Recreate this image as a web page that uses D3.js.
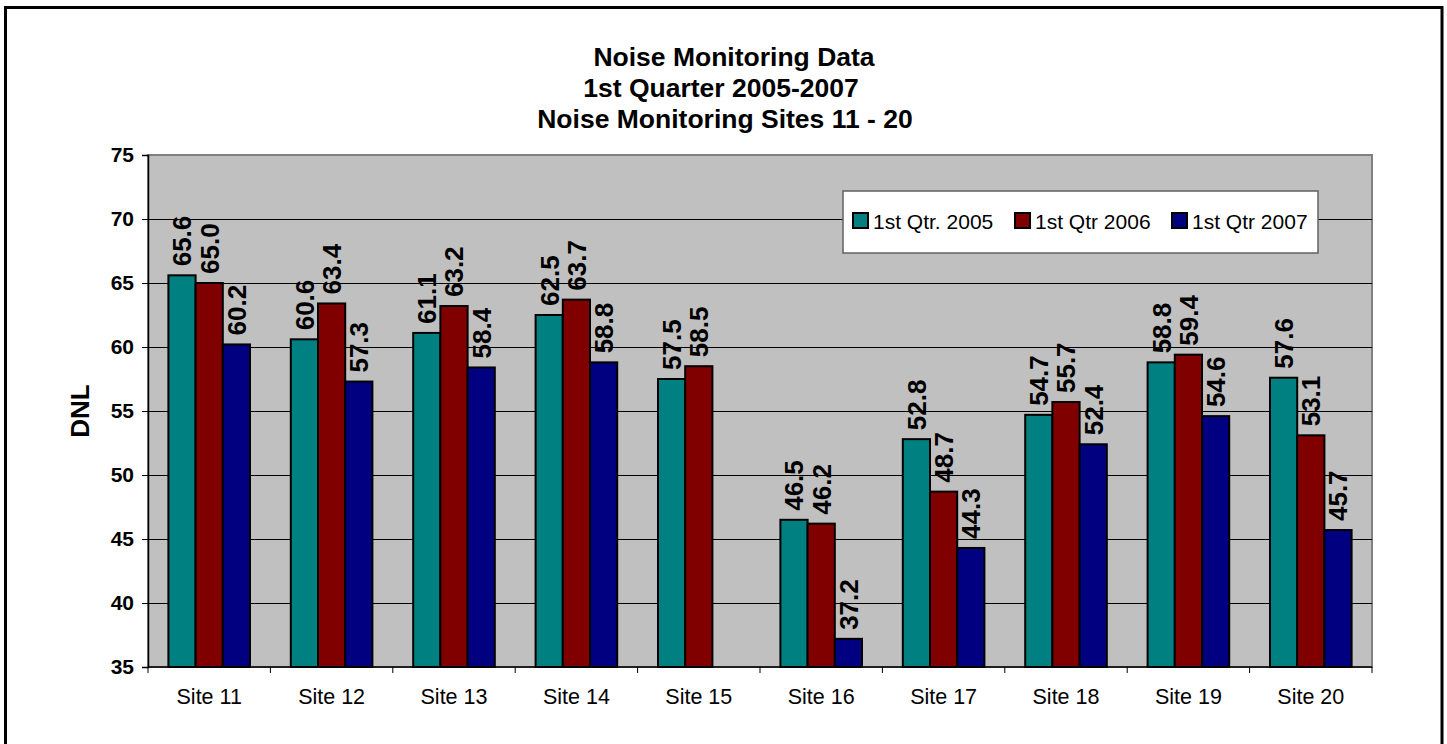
<!DOCTYPE html>
<meta charset="utf-8">
<script src="https://d3js.org/d3.v7.min.js"></script>
<style>
  body { margin: 0; background: #fff; }
  text { font-family: Arial, "Liberation Sans", sans-serif; }
</style>
<div id="my_dataviz"></div>
<script>

// chart values
var sites = ["Site 11", "Site 12", "Site 13", "Site 14", "Site 15",
             "Site 16", "Site 17", "Site 18", "Site 19", "Site 20"];
var seriesNames = ["1st Qtr. 2005", "1st Qtr 2006", "1st Qtr 2007"];
var q2005 = [65.6, 60.6, 61.1, 62.5, 57.5, 46.5, 52.8, 54.7, 58.8, 57.6];
var q2006 = [65.0, 63.4, 63.2, 63.7, 58.5, 46.2, 48.7, 55.7, 59.4, 53.1];
var q2007 = [60.2, 57.3, 58.4, 58.8, null, 37.2, 44.3, 52.4, 54.6, 45.7];
var yTicks = [35, 40, 45, 50, 55, 60, 65, 70, 75];
var titleLines = ["Noise Monitoring Data", "1st Quarter 2005-2007", "Noise Monitoring Sites 11 - 20"];

var colors = ["#008080", "#800000", "#000080"];
var allSeries = [q2005, q2006, q2007];

var W = 1447, H = 744;
var plot = {left: 148, right: 1372, top: 155, bottom: 667};

var svg = d3.select("#my_dataviz")
  .append("svg")
    .attr("width", W)
    .attr("height", H);

// outer frame
svg.append("rect")
  .attr("x", 5.5).attr("y", 7.5)
  .attr("width", 1436.5).attr("height", 760)
  .attr("fill", "#fff")
  .attr("stroke", "#000")
  .attr("stroke-width", 3);

// title
var titleDx = [9, -4, 0];
svg.selectAll(".title")
  .data(titleLines)
  .enter()
  .append("text")
    .attr("x", function(d, i) { return 725 + titleDx[i]; })
    .attr("y", function(d, i) { return 66 + i * 31; })
    .attr("text-anchor", "middle")
    .style("font-size", "26.5px")
    .style("font-weight", "bold")
    .text(function(d) { return d; });

// scales
var x0 = d3.scaleBand()
  .domain(sites)
  .range([plot.left, plot.right])
  .padding(0);

var x1 = d3.scaleBand()
  .domain(d3.range(seriesNames.length))
  .range([0, x0.bandwidth()])
  .paddingInner(0)
  .paddingOuter(0.75);

var y = d3.scaleLinear()
  .domain([35, 75])
  .range([plot.bottom, plot.top]);

// plot background
svg.append("rect")
  .attr("x", plot.left).attr("y", plot.top)
  .attr("width", plot.right - plot.left)
  .attr("height", plot.bottom - plot.top)
  .attr("fill", "#c0c0c0")
  .attr("stroke", "#808080")
  .attr("stroke-width", 2);

// gridlines
svg.selectAll(".grid")
  .data(yTicks.filter(function(t) { return t > 35 && t < 75; }))
  .enter()
  .append("line")
    .attr("x1", plot.left).attr("x2", plot.right)
    .attr("y1", function(d) { return y(d) + 0.5; })
    .attr("y2", function(d) { return y(d) + 0.5; })
    .attr("stroke", "#000")
    .attr("stroke-width", 1);

// Y axis
var yAxis = svg.append("g")
  .attr("transform", "translate(" + plot.left + ",0)")
  .call(d3.axisLeft(y).tickValues(yTicks).tickSize(6).tickPadding(8));
yAxis.select(".domain").attr("stroke", "#000").attr("stroke-width", 1.5);
yAxis.selectAll(".tick line").attr("stroke", "#000");
yAxis.selectAll("text")
  .style("font-size", "21px")
  .style("font-weight", "bold")
  .style("font-family", "Arial, 'Liberation Sans', sans-serif")
  .attr("fill", "#000");

// X axis: ticks at category boundaries
var xAxis = svg.append("g")
  .attr("transform", "translate(0," + plot.bottom + ")");
xAxis.append("line")
  .attr("x1", plot.left).attr("x2", plot.right)
  .attr("stroke", "#000").attr("stroke-width", 1.5);
var bounds = sites.map(function(s) { return x0(s); }).concat([plot.right]);
xAxis.selectAll(".xtick")
  .data(bounds)
  .enter()
  .append("line")
    .attr("x1", function(d) { return d; })
    .attr("x2", function(d) { return d; })
    .attr("y1", 0).attr("y2", 6)
    .attr("stroke", "#000");
xAxis.selectAll(".xlabel")
  .data(sites)
  .enter()
  .append("text")
    .attr("x", function(d) { return x0(d) + x0.bandwidth() / 2; })
    .attr("y", 37)
    .attr("text-anchor", "middle")
    .style("font-size", "21.5px")
    .text(function(d) { return d; });

// Y axis label
svg.append("text")
  .attr("transform", "translate(89," + ((plot.top + plot.bottom) / 2) + ") rotate(-90)")
  .attr("text-anchor", "middle")
  .style("font-size", "26px")
  .style("font-weight", "bold")
  .text("DNL");

// bars
var rows = [];
sites.forEach(function(s, i) {
  allSeries.forEach(function(arr, k) {
    if (arr[i] != null) rows.push({site: s, k: k, v: arr[i]});
  });
});

svg.selectAll(".bar")
  .data(rows)
  .enter()
  .append("rect")
    .attr("x", function(d) { return x0(d.site) + x1(d.k); })
    .attr("y", function(d) { return y(d.v); })
    .attr("width", x1.bandwidth())
    .attr("height", function(d) { return y(35) - y(d.v); })
    .attr("fill", function(d) { return colors[d.k]; })
    .attr("stroke", "#000")
    .attr("stroke-width", 2);

// value labels
svg.selectAll(".vlabel")
  .data(rows)
  .enter()
  .append("text")
    .attr("transform", function(d) {
      var cx = x0(d.site) + x1(d.k) + x1.bandwidth() / 2;
      return "translate(" + cx + "," + (y(d.v) - 9) + ") rotate(-90)";
    })
    .attr("dy", "0.36em")
    .attr("text-anchor", "start")
    .style("font-size", "26px")
    .style("font-weight", "bold")
    .text(function(d) { return d.v.toFixed(1); });

// legend
var legend = svg.append("g");
legend.append("rect")
  .attr("x", 843).attr("y", 191)
  .attr("width", 475).attr("height", 62)
  .attr("fill", "#fff")
  .attr("stroke", "#606060")
  .attr("stroke-width", 1.5);
var legendX = [853, 1015, 1172];
seriesNames.forEach(function(name, k) {
  legend.append("rect")
    .attr("x", legendX[k]).attr("y", 213)
    .attr("width", 15).attr("height", 15)
    .attr("fill", colors[k])
    .attr("stroke", "#000")
    .attr("stroke-width", 2);
  legend.append("text")
    .attr("x", legendX[k] + 20).attr("y", 229)
    .style("font-size", "21px")
    .text(name);
});

</script>
